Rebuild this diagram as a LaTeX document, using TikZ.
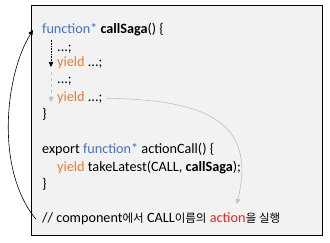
\documentclass[tikz,border=0pt]{standalone}
\usepackage{fontspec}
\setmainfont{Carlito}
\newfontfamily\krfont{Noto Sans CJK KR}
\usetikzlibrary{arrows.meta, positioning}
\definecolor{KeyBlue}{RGB}{68, 114, 196}
\definecolor{YieldOrange}{RGB}{237, 125, 49}
\definecolor{ActionRed}{RGB}{232, 36, 36}
\definecolor{PanelGray}{RGB}{242, 242, 242}
\definecolor{FlowGray}{RGB}{191, 191, 191}

\newcommand{\kw}[1]{\textcolor{KeyBlue}{#1}}
\newcommand{\yl}[1]{\textcolor{YieldOrange}{#1}}
\newcommand{\kr}[1]{{\krfont\fontsize{11.5}{14}\selectfont #1}}

\tikzset{
  codeline/.style={anchor=base west, inner sep=0pt, font=\fontsize{14.2}{17}\selectfont},
  flow/.style={-{Triangle[length=5pt, width=4.5pt]}, line width=0.6pt},
}

\begin{document}
\begin{tikzpicture}[x=1pt, y=-1pt]
  \useasboundingbox (0,0) rectangle (330,243);
  \node[draw=black, fill=PanelGray, line width=0.8pt, anchor=north west, inner sep=0pt,
        minimum width=291pt, minimum height=230pt] (panel) at (31,5) {};

  \node[codeline] (fn) at (42,34) {\kw{function*} \textbf{callSaga}() \{};
  \node[codeline] (dotsA) at (57,52) {...;};
  \node[codeline] (yieldA) at (57,67) {\yl{yield} ...;};
  \node[codeline] (dotsB) at (57,84) {...;};
  \node[codeline] (yieldB) at (57,102) {\yl{yield} ...;};
  \node[codeline] (closeA) at (42,119) {\}};
  \node[codeline] (export) at (42,154) {export \kw{function*} actionCall() \{};
  \node[codeline] (take) at (57,172) {\yl{yield} takeLatest(CALL, \textbf{callSaga});};
  \node[codeline] (closeB) at (42,189) {\}};
  \node[codeline] (note) at (42,223) {// component\kr{에서} CALL\kr{이름의}};
  \node[codeline] (act) at ([xshift=3pt]note.base east) {\textcolor{ActionRed}{action}};
  \node[codeline] (rest) at (act.base east) {\kr{을 실행}};

  \coordinate (tipAct) at ([xshift=-9pt, yshift=9pt]act.north east);

  \draw[flow, densely dotted] ([xshift=9pt, yshift=-3pt]fn.south west) -- ([xshift=-6pt]yieldA.base west);
  \draw[flow, dashed, draw=FlowGray] ([xshift=-6pt, yshift=5pt]dotsB.north west) -- ([xshift=-6pt]yieldB.base west);
  \draw[flow, draw=FlowGray] ([xshift=4pt]yieldB.east) .. controls (200,100) and (258,118) .. (tipAct);
  \draw[flow] ([xshift=-6pt]note.west) .. controls (-5,170) and (5,75) .. ([xshift=-9pt]fn.west);
\end{tikzpicture}
\end{document}
